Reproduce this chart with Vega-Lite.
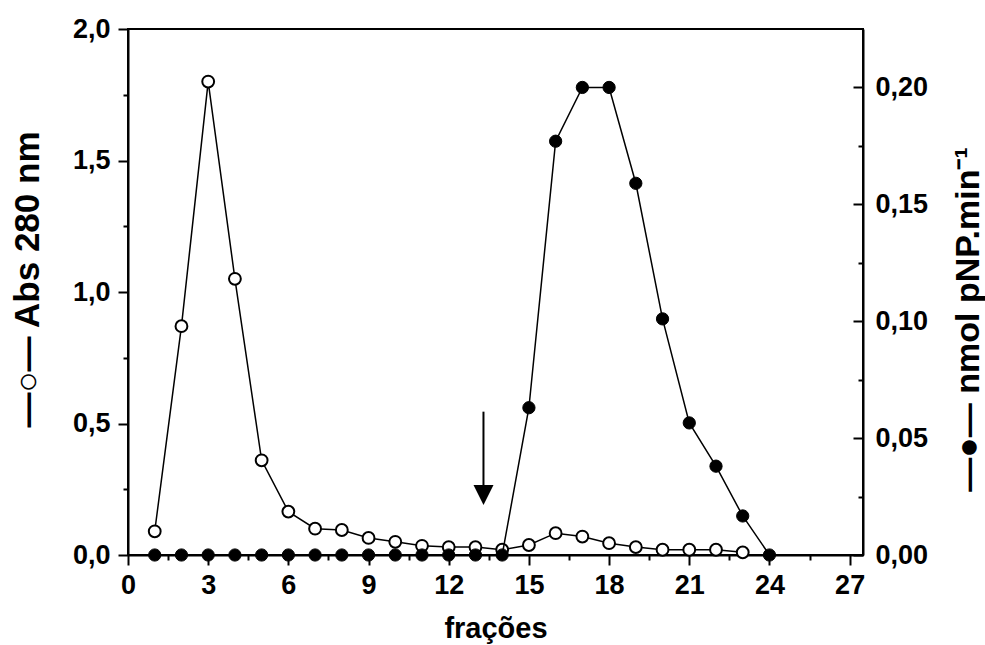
{
  "$schema": "https://vega.github.io/schema/vega-lite/v6.json",
  "autosize": "none",
  "padding": {"left": 128, "top": 29, "right": 122, "bottom": 90},
  "width": 735,
  "height": 526,
  "background": "white",
  "datasets": {
    "abs": [
      {"f": 1, "abs": 0.09}, {"f": 2, "abs": 0.87}, {"f": 3, "abs": 1.8}, {"f": 4, "abs": 1.05},
      {"f": 5, "abs": 0.36}, {"f": 6, "abs": 0.165}, {"f": 7, "abs": 0.1}, {"f": 8, "abs": 0.095},
      {"f": 9, "abs": 0.065}, {"f": 10, "abs": 0.05}, {"f": 11, "abs": 0.035}, {"f": 12, "abs": 0.03},
      {"f": 13, "abs": 0.03}, {"f": 14, "abs": 0.02}, {"f": 15, "abs": 0.038}, {"f": 16, "abs": 0.083},
      {"f": 17, "abs": 0.07}, {"f": 18, "abs": 0.045}, {"f": 19, "abs": 0.03}, {"f": 20, "abs": 0.02},
      {"f": 21, "abs": 0.02}, {"f": 22, "abs": 0.02}, {"f": 23, "abs": 0.01}
    ],
    "act": [
      {"f": 1, "act": 0}, {"f": 2, "act": 0}, {"f": 3, "act": 0}, {"f": 4, "act": 0},
      {"f": 5, "act": 0}, {"f": 6, "act": 0}, {"f": 7, "act": 0}, {"f": 8, "act": 0},
      {"f": 9, "act": 0}, {"f": 10, "act": 0}, {"f": 11, "act": 0}, {"f": 12, "act": 0},
      {"f": 13, "act": 0}, {"f": 14, "act": 0}, {"f": 15, "act": 0.063}, {"f": 16, "act": 0.177},
      {"f": 17, "act": 0.2}, {"f": 18, "act": 0.2}, {"f": 19, "act": 0.159}, {"f": 20, "act": 0.101},
      {"f": 21, "act": 0.0565}, {"f": 22, "act": 0.038}, {"f": 23, "act": 0.0167}, {"f": 24, "act": 0}
    ],
    "arrow": [{"f": 13.3, "abs": 0.545, "abs2": 0.25}],
    "head": [{"f": 13.3, "abs": 0.228}]
  },
  "config": {
    "locale": {"number": {"decimal": ",", "thousands": ".", "grouping": [3], "currency": ["", ""]}},
    "view": {"stroke": "black", "strokeWidth": 2},
    "axis": {
      "grid": false,
      "domainColor": "black",
      "domainWidth": 2,
      "tickColor": "black",
      "tickWidth": 2,
      "labelFont": "Liberation Sans",
      "labelFontWeight": "bold",
      "labelFontSize": 27,
      "labelColor": "black",
      "titleFont": "Liberation Sans",
      "titleFontWeight": "bold",
      "titleColor": "black"
    }
  },
  "encoding": {
    "x": {
      "field": "f",
      "type": "quantitative",
      "scale": {"domain": [0, 27.5], "nice": false, "zero": false},
      "axis": {
        "title": "frações",
        "titleFontSize": 29,
        "titleBaseline": "alphabetic",
        "titleY": 82,
        "values": [0, 1.5, 3, 4.5, 6, 7.5, 9, 10.5, 12, 13.5, 15, 16.5, 18, 19.5, 21, 22.5, 24, 25.5, 27],
        "format": "d",
        "labelExpr": "datum.value % 3 === 0 ? datum.label : ''",
        "tickSize": {"condition": {"test": "datum.value % 3 === 0", "value": 10}, "value": 5},
        "labelPadding": 7,
        "labelFlush": false,
        "labelOverlap": false
      }
    }
  },
  "layer": [
    {
      "layer": [
        {
          "data": {"name": "abs"},
          "mark": {"type": "line", "color": "black", "strokeWidth": 1.5},
          "encoding": {
            "y": {
              "field": "abs",
              "type": "quantitative",
              "scale": {"domain": [0, 2], "nice": false},
              "axis": {
                "orient": "left",
                "title": "—○— Abs 280 nm",
                "titleFontSize": 35,
                "titleAngle": 270,
                "titleAlign": "center",
                "titleBaseline": "middle",
                "titleX": -101,
                "titleY": 250,
                "values": [0, 0.25, 0.5, 0.75, 1, 1.25, 1.5, 1.75, 2],
                "format": ".1f",
                "labelExpr": "datum.value % 0.5 === 0 ? datum.label : ''",
                "tickSize": {"condition": {"test": "datum.value % 0.5 === 0", "value": 10}, "value": 5},
                "labelPadding": 8,
                "labelFlush": false,
                "labelOverlap": false
              }
            }
          }
        },
        {
          "data": {"name": "abs"},
          "mark": {"type": "point", "shape": "circle", "filled": true, "fill": "white", "stroke": "black", "strokeWidth": 2, "size": 140, "opacity": 1},
          "encoding": {"y": {"field": "abs", "type": "quantitative"}}
        },
        {
          "data": {"name": "arrow"},
          "mark": {"type": "rule", "color": "black", "strokeWidth": 2},
          "encoding": {"y": {"field": "abs", "type": "quantitative"}, "y2": {"field": "abs2"}}
        },
        {
          "data": {"name": "head"},
          "mark": {"type": "point", "shape": "M-1,-1L1,-1L0,1Z", "filled": true, "fill": "black", "stroke": null, "size": 400, "opacity": 1},
          "encoding": {"y": {"field": "abs", "type": "quantitative"}}
        }
      ]
    },
    {
      "layer": [
        {
          "data": {"name": "act"},
          "mark": {"type": "line", "color": "black", "strokeWidth": 1.5},
          "encoding": {
            "y": {
              "field": "act",
              "type": "quantitative",
              "scale": {"domain": [0, 0.225], "nice": false},
              "axis": {
                "orient": "right",
                "title": "—●— nmol pNP.min⁻¹",
                "titleFontSize": 34,
                "titleAngle": 270,
                "titleAlign": "center",
                "titleBaseline": "middle",
                "titleX": 105,
                "titleY": 290,
                "values": [0, 0.025, 0.05, 0.075, 0.1, 0.125, 0.15, 0.175, 0.2],
                "format": ".2f",
                "labelExpr": "round(datum.value * 1000) % 50 === 0 ? datum.label : ''",
                "tickSize": {"condition": {"test": "round(datum.value * 1000) % 50 === 0", "value": -10}, "value": -5},
                "labelPadding": 22,
                "labelFlush": false,
                "labelOverlap": false
              }
            }
          }
        },
        {
          "data": {"name": "act"},
          "mark": {"type": "point", "shape": "circle", "filled": true, "fill": "black", "stroke": "black", "strokeWidth": 1, "size": 150, "opacity": 1},
          "encoding": {"y": {"field": "act", "type": "quantitative"}}
        }
      ]
    }
  ],
  "resolve": {"scale": {"y": "independent"}}
}
